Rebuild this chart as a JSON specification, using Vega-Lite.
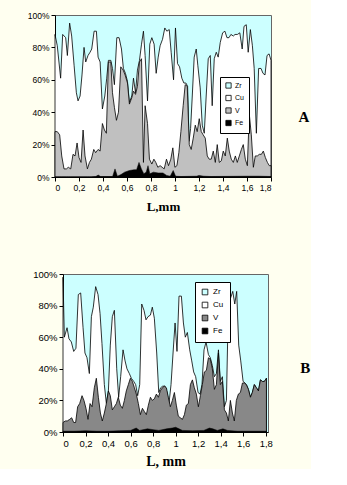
{
  "$schema": "https://vega.github.io/schema/vega-lite/v6.json",
  "background": "#FFFFF0",
  "padding": {"left": 0, "top": 10, "right": 0, "bottom": 0},
  "spacing": 54,
  "columns": 1,
  "resolve": {"scale": {"color": "independent", "x": "independent", "y": "independent"}, "legend": {"color": "independent"}},
  "config": {
    "view": {"fill": "#CCFFFF", "stroke": "#666666", "strokeWidth": 1},
    "axis": {"domainColor": "black", "tickColor": "black", "labelColor": "black", "labelFont": "Liberation Sans", "grid": false, "tickSize": 4, "titleFont": "Liberation Serif", "titleFontWeight": "bold", "titleColor": "black"}
  },
  "datasets": {
    "top": [
      {"s":"Cu","x":0.000,"y":88},{"s":"Cu","x":0.019,"y":81},{"s":"Cu","x":0.047,"y":61},{"s":"Cu","x":0.064,"y":88},{"s":"Cu","x":0.089,"y":86},{"s":"Cu","x":0.103,"y":75},{"s":"Cu","x":0.122,"y":95},{"s":"Cu","x":0.139,"y":87},{"s":"Cu","x":0.159,"y":69},{"s":"Cu","x":0.178,"y":52},{"s":"Cu","x":0.192,"y":47},{"s":"Cu","x":0.209,"y":50},{"s":"Cu","x":0.225,"y":63},{"s":"Cu","x":0.242,"y":80},{"s":"Cu","x":0.256,"y":71},{"s":"Cu","x":0.275,"y":75},{"s":"Cu","x":0.292,"y":77},{"s":"Cu","x":0.306,"y":79},{"s":"Cu","x":0.326,"y":90},{"s":"Cu","x":0.345,"y":90},{"s":"Cu","x":0.359,"y":74},{"s":"Cu","x":0.376,"y":71},{"s":"Cu","x":0.395,"y":42},{"s":"Cu","x":0.415,"y":50},{"s":"Cu","x":0.431,"y":61},{"s":"Cu","x":0.445,"y":72},{"s":"Cu","x":0.465,"y":72},{"s":"Cu","x":0.479,"y":67},{"s":"Cu","x":0.495,"y":57},{"s":"Cu","x":0.515,"y":86},{"s":"Cu","x":0.534,"y":86},{"s":"Cu","x":0.554,"y":79},{"s":"Cu","x":0.570,"y":67},{"s":"Cu","x":0.587,"y":64},{"s":"Cu","x":0.604,"y":59},{"s":"Cu","x":0.620,"y":46},{"s":"Cu","x":0.640,"y":50},{"s":"Cu","x":0.654,"y":61},{"s":"Cu","x":0.671,"y":52},{"s":"Cu","x":0.687,"y":66},{"s":"Cu","x":0.704,"y":72},{"s":"Cu","x":0.721,"y":82},{"s":"Cu","x":0.737,"y":90},{"s":"Cu","x":0.751,"y":75},{"s":"Cu","x":0.771,"y":47},{"s":"Cu","x":0.790,"y":82},{"s":"Cu","x":0.807,"y":86},{"s":"Cu","x":0.826,"y":82},{"s":"Cu","x":0.843,"y":64},{"s":"Cu","x":0.860,"y":74},{"s":"Cu","x":0.876,"y":81},{"s":"Cu","x":0.896,"y":85},{"s":"Cu","x":0.915,"y":92},{"s":"Cu","x":0.932,"y":90},{"s":"Cu","x":0.952,"y":91},{"s":"Cu","x":0.968,"y":77},{"s":"Cu","x":0.988,"y":60},{"s":"Cu","x":1.004,"y":92},{"s":"Cu","x":1.021,"y":70},{"s":"Cu","x":1.038,"y":68},{"s":"Cu","x":1.057,"y":61},{"s":"Cu","x":1.074,"y":58},{"s":"Cu","x":1.091,"y":58},{"s":"Cu","x":1.105,"y":56},{"s":"Cu","x":1.117,"y":22},{"s":"Cu","x":1.130,"y":30},{"s":"Cu","x":1.144,"y":50},{"s":"Cu","x":1.160,"y":74},{"s":"Cu","x":1.177,"y":79},{"s":"Cu","x":1.190,"y":69},{"s":"Cu","x":1.210,"y":55},{"s":"Cu","x":1.227,"y":32},{"s":"Cu","x":1.244,"y":27},{"s":"Cu","x":1.260,"y":50},{"s":"Cu","x":1.277,"y":73},{"s":"Cu","x":1.294,"y":75},{"s":"Cu","x":1.310,"y":44},{"s":"Cu","x":1.327,"y":73},{"s":"Cu","x":1.344,"y":77},{"s":"Cu","x":1.360,"y":74},{"s":"Cu","x":1.377,"y":83},{"s":"Cu","x":1.397,"y":89},{"s":"Cu","x":1.416,"y":90},{"s":"Cu","x":1.433,"y":86},{"s":"Cu","x":1.450,"y":86},{"s":"Cu","x":1.466,"y":88},{"s":"Cu","x":1.486,"y":87},{"s":"Cu","x":1.500,"y":88},{"s":"Cu","x":1.520,"y":88},{"s":"Cu","x":1.540,"y":89},{"s":"Cu","x":1.560,"y":79},{"s":"Cu","x":1.575,"y":93},{"s":"Cu","x":1.594,"y":94},{"s":"Cu","x":1.610,"y":77},{"s":"Cu","x":1.628,"y":91},{"s":"Cu","x":1.645,"y":81},{"s":"Cu","x":1.660,"y":67},{"s":"Cu","x":1.678,"y":27},{"s":"Cu","x":1.697,"y":67},{"s":"Cu","x":1.717,"y":67},{"s":"Cu","x":1.733,"y":64},{"s":"Cu","x":1.750,"y":63},{"s":"Cu","x":1.767,"y":75},{"s":"Cu","x":1.784,"y":76},{"s":"Cu","x":1.800,"y":72},
      {"s":"V","x":0.000,"y":28},{"s":"V","x":0.019,"y":28},{"s":"V","x":0.039,"y":26},{"s":"V","x":0.056,"y":13},{"s":"V","x":0.075,"y":5},{"s":"V","x":0.095,"y":5},{"s":"V","x":0.111,"y":6},{"s":"V","x":0.131,"y":5},{"s":"V","x":0.150,"y":14},{"s":"V","x":0.167,"y":13},{"s":"V","x":0.184,"y":21},{"s":"V","x":0.200,"y":12},{"s":"V","x":0.217,"y":9},{"s":"V","x":0.234,"y":29},{"s":"V","x":0.250,"y":13},{"s":"V","x":0.270,"y":5},{"s":"V","x":0.287,"y":9},{"s":"V","x":0.303,"y":11},{"s":"V","x":0.323,"y":17},{"s":"V","x":0.339,"y":15},{"s":"V","x":0.359,"y":17},{"s":"V","x":0.376,"y":16},{"s":"V","x":0.395,"y":33},{"s":"V","x":0.412,"y":29},{"s":"V","x":0.428,"y":27},{"s":"V","x":0.445,"y":71},{"s":"V","x":0.465,"y":71},{"s":"V","x":0.479,"y":52},{"s":"V","x":0.495,"y":43},{"s":"V","x":0.512,"y":35},{"s":"V","x":0.529,"y":40},{"s":"V","x":0.548,"y":68},{"s":"V","x":0.568,"y":66},{"s":"V","x":0.584,"y":63},{"s":"V","x":0.604,"y":58},{"s":"V","x":0.620,"y":45},{"s":"V","x":0.640,"y":49},{"s":"V","x":0.654,"y":53},{"s":"V","x":0.671,"y":51},{"s":"V","x":0.687,"y":56},{"s":"V","x":0.704,"y":71},{"s":"V","x":0.721,"y":73},{"s":"V","x":0.737,"y":9},{"s":"V","x":0.751,"y":44},{"s":"V","x":0.771,"y":33},{"s":"V","x":0.787,"y":11},{"s":"V","x":0.807,"y":8},{"s":"V","x":0.824,"y":11},{"s":"V","x":0.840,"y":9},{"s":"V","x":0.857,"y":6},{"s":"V","x":0.876,"y":7},{"s":"V","x":0.893,"y":6},{"s":"V","x":0.910,"y":5},{"s":"V","x":0.929,"y":11},{"s":"V","x":0.946,"y":7},{"s":"V","x":0.965,"y":11},{"s":"V","x":0.982,"y":18},{"s":"V","x":0.999,"y":6},{"s":"V","x":1.016,"y":7},{"s":"V","x":1.032,"y":15},{"s":"V","x":1.049,"y":28},{"s":"V","x":1.068,"y":44},{"s":"V","x":1.085,"y":57},{"s":"V","x":1.102,"y":56},{"s":"V","x":1.119,"y":20},{"s":"V","x":1.135,"y":17},{"s":"V","x":1.152,"y":24},{"s":"V","x":1.169,"y":32},{"s":"V","x":1.185,"y":28},{"s":"V","x":1.202,"y":36},{"s":"V","x":1.219,"y":28},{"s":"V","x":1.235,"y":26},{"s":"V","x":1.252,"y":24},{"s":"V","x":1.269,"y":13},{"s":"V","x":1.285,"y":11},{"s":"V","x":1.302,"y":11},{"s":"V","x":1.319,"y":16},{"s":"V","x":1.336,"y":9},{"s":"V","x":1.352,"y":20},{"s":"V","x":1.369,"y":9},{"s":"V","x":1.386,"y":10},{"s":"V","x":1.402,"y":16},{"s":"V","x":1.419,"y":13},{"s":"V","x":1.436,"y":24},{"s":"V","x":1.452,"y":16},{"s":"V","x":1.469,"y":11},{"s":"V","x":1.486,"y":9},{"s":"V","x":1.503,"y":13},{"s":"V","x":1.519,"y":9},{"s":"V","x":1.536,"y":13},{"s":"V","x":1.553,"y":17},{"s":"V","x":1.569,"y":20},{"s":"V","x":1.586,"y":11},{"s":"V","x":1.603,"y":7},{"s":"V","x":1.619,"y":39},{"s":"V","x":1.636,"y":26},{"s":"V","x":1.653,"y":6},{"s":"V","x":1.669,"y":13},{"s":"V","x":1.686,"y":13},{"s":"V","x":1.703,"y":14},{"s":"V","x":1.720,"y":14},{"s":"V","x":1.736,"y":16},{"s":"V","x":1.753,"y":12},{"s":"V","x":1.770,"y":9},{"s":"V","x":1.786,"y":7},{"s":"V","x":1.800,"y":7},
      {"s":"Fe","x":0,"y":0},{"s":"Fe","x":0.30,"y":0},{"s":"Fe","x":0.34,"y":0.3},{"s":"Fe","x":0.36,"y":1.2},{"s":"Fe","x":0.38,"y":0.3},{"s":"Fe","x":0.48,"y":0.3},{"s":"Fe","x":0.50,"y":5},{"s":"Fe","x":0.52,"y":0.5},{"s":"Fe","x":0.55,"y":1.5},{"s":"Fe","x":0.58,"y":3},{"s":"Fe","x":0.62,"y":4},{"s":"Fe","x":0.66,"y":4.5},{"s":"Fe","x":0.68,"y":4.5},{"s":"Fe","x":0.70,"y":9},{"s":"Fe","x":0.72,"y":5},{"s":"Fe","x":0.74,"y":2},{"s":"Fe","x":0.76,"y":3},{"s":"Fe","x":0.775,"y":7},{"s":"Fe","x":0.79,"y":2},{"s":"Fe","x":0.82,"y":3},{"s":"Fe","x":0.86,"y":2.5},{"s":"Fe","x":0.90,"y":2.5},{"s":"Fe","x":0.93,"y":1},{"s":"Fe","x":0.96,"y":0.5},{"s":"Fe","x":0.985,"y":4},{"s":"Fe","x":1.005,"y":0.5},{"s":"Fe","x":1.05,"y":0.3},{"s":"Fe","x":1.18,"y":0.5},{"s":"Fe","x":1.20,"y":1},{"s":"Fe","x":1.24,"y":0.5},{"s":"Fe","x":1.30,"y":0.3},{"s":"Fe","x":1.60,"y":0.5},{"s":"Fe","x":1.70,"y":0.5},{"s":"Fe","x":1.80,"y":0.3}
    ],
    "bot": [
      {"s":"Cu","x":0.000,"y":98},{"s":"Cu","x":0.012,"y":60},{"s":"Cu","x":0.036,"y":66},{"s":"Cu","x":0.053,"y":59},{"s":"Cu","x":0.074,"y":57},{"s":"Cu","x":0.095,"y":51},{"s":"Cu","x":0.115,"y":53},{"s":"Cu","x":0.136,"y":87},{"s":"Cu","x":0.157,"y":88},{"s":"Cu","x":0.178,"y":66},{"s":"Cu","x":0.195,"y":50},{"s":"Cu","x":0.213,"y":47},{"s":"Cu","x":0.234,"y":37},{"s":"Cu","x":0.252,"y":73},{"s":"Cu","x":0.269,"y":79},{"s":"Cu","x":0.290,"y":92},{"s":"Cu","x":0.311,"y":87},{"s":"Cu","x":0.329,"y":75},{"s":"Cu","x":0.346,"y":56},{"s":"Cu","x":0.367,"y":30},{"s":"Cu","x":0.385,"y":18},{"s":"Cu","x":0.403,"y":26},{"s":"Cu","x":0.420,"y":55},{"s":"Cu","x":0.438,"y":73},{"s":"Cu","x":0.456,"y":77},{"s":"Cu","x":0.477,"y":40},{"s":"Cu","x":0.494,"y":22},{"s":"Cu","x":0.512,"y":35},{"s":"Cu","x":0.533,"y":52},{"s":"Cu","x":0.551,"y":45},{"s":"Cu","x":0.568,"y":40},{"s":"Cu","x":0.589,"y":37},{"s":"Cu","x":0.607,"y":34},{"s":"Cu","x":0.628,"y":32},{"s":"Cu","x":0.645,"y":30},{"s":"Cu","x":0.663,"y":23},{"s":"Cu","x":0.681,"y":30},{"s":"Cu","x":0.699,"y":81},{"s":"Cu","x":0.719,"y":77},{"s":"Cu","x":0.737,"y":71},{"s":"Cu","x":0.755,"y":73},{"s":"Cu","x":0.776,"y":74},{"s":"Cu","x":0.793,"y":79},{"s":"Cu","x":0.811,"y":72},{"s":"Cu","x":0.832,"y":50},{"s":"Cu","x":0.850,"y":25},{"s":"Cu","x":0.867,"y":28},{"s":"Cu","x":0.885,"y":29},{"s":"Cu","x":0.906,"y":29},{"s":"Cu","x":0.924,"y":25},{"s":"Cu","x":0.941,"y":18},{"s":"Cu","x":0.959,"y":30},{"s":"Cu","x":0.977,"y":50},{"s":"Cu","x":0.995,"y":69},{"s":"Cu","x":1.012,"y":51},{"s":"Cu","x":1.030,"y":86},{"s":"Cu","x":1.051,"y":86},{"s":"Cu","x":1.069,"y":69},{"s":"Cu","x":1.086,"y":60},{"s":"Cu","x":1.104,"y":63},{"s":"Cu","x":1.125,"y":52},{"s":"Cu","x":1.143,"y":45},{"s":"Cu","x":1.160,"y":38},{"s":"Cu","x":1.178,"y":35},{"s":"Cu","x":1.199,"y":25},{"s":"Cu","x":1.217,"y":24},{"s":"Cu","x":1.234,"y":30},{"s":"Cu","x":1.252,"y":52},{"s":"Cu","x":1.270,"y":57},{"s":"Cu","x":1.291,"y":49},{"s":"Cu","x":1.308,"y":47},{"s":"Cu","x":1.326,"y":42},{"s":"Cu","x":1.344,"y":35},{"s":"Cu","x":1.362,"y":37},{"s":"Cu","x":1.380,"y":52},{"s":"Cu","x":1.397,"y":32},{"s":"Cu","x":1.415,"y":35},{"s":"Cu","x":1.433,"y":16},{"s":"Cu","x":1.451,"y":20},{"s":"Cu","x":1.468,"y":80},{"s":"Cu","x":1.489,"y":85},{"s":"Cu","x":1.507,"y":89},{"s":"Cu","x":1.525,"y":81},{"s":"Cu","x":1.542,"y":89},{"s":"Cu","x":1.560,"y":55},{"s":"Cu","x":1.578,"y":45},{"s":"Cu","x":1.599,"y":32},{"s":"Cu","x":1.616,"y":31},{"s":"Cu","x":1.628,"y":30},{"s":"Cu","x":1.646,"y":27},{"s":"Cu","x":1.664,"y":22},{"s":"Cu","x":1.681,"y":25},{"s":"Cu","x":1.699,"y":30},{"s":"Cu","x":1.717,"y":28},{"s":"Cu","x":1.735,"y":26},{"s":"Cu","x":1.753,"y":33},{"s":"Cu","x":1.770,"y":32},{"s":"Cu","x":1.788,"y":32},{"s":"Cu","x":1.806,"y":34},
      {"s":"V","x":0.000,"y":6},{"s":"V","x":0.021,"y":7},{"s":"V","x":0.038,"y":7},{"s":"V","x":0.059,"y":8},{"s":"V","x":0.077,"y":9},{"s":"V","x":0.095,"y":6},{"s":"V","x":0.112,"y":6},{"s":"V","x":0.130,"y":16},{"s":"V","x":0.148,"y":18},{"s":"V","x":0.169,"y":23},{"s":"V","x":0.186,"y":20},{"s":"V","x":0.204,"y":15},{"s":"V","x":0.222,"y":8},{"s":"V","x":0.240,"y":18},{"s":"V","x":0.258,"y":16},{"s":"V","x":0.278,"y":28},{"s":"V","x":0.296,"y":34},{"s":"V","x":0.314,"y":22},{"s":"V","x":0.332,"y":12},{"s":"V","x":0.349,"y":7},{"s":"V","x":0.367,"y":12},{"s":"V","x":0.385,"y":18},{"s":"V","x":0.403,"y":26},{"s":"V","x":0.420,"y":23},{"s":"V","x":0.438,"y":14},{"s":"V","x":0.456,"y":16},{"s":"V","x":0.474,"y":18},{"s":"V","x":0.491,"y":22},{"s":"V","x":0.509,"y":17},{"s":"V","x":0.527,"y":15},{"s":"V","x":0.545,"y":20},{"s":"V","x":0.562,"y":26},{"s":"V","x":0.580,"y":30},{"s":"V","x":0.598,"y":34},{"s":"V","x":0.616,"y":32},{"s":"V","x":0.634,"y":28},{"s":"V","x":0.651,"y":24},{"s":"V","x":0.669,"y":18},{"s":"V","x":0.687,"y":11},{"s":"V","x":0.705,"y":15},{"s":"V","x":0.722,"y":13},{"s":"V","x":0.740,"y":11},{"s":"V","x":0.758,"y":17},{"s":"V","x":0.776,"y":22},{"s":"V","x":0.793,"y":20},{"s":"V","x":0.811,"y":21},{"s":"V","x":0.829,"y":24},{"s":"V","x":0.847,"y":22},{"s":"V","x":0.864,"y":26},{"s":"V","x":0.882,"y":28},{"s":"V","x":0.900,"y":29},{"s":"V","x":0.918,"y":28},{"s":"V","x":0.935,"y":22},{"s":"V","x":0.953,"y":16},{"s":"V","x":0.971,"y":20},{"s":"V","x":0.989,"y":25},{"s":"V","x":1.006,"y":17},{"s":"V","x":1.024,"y":10},{"s":"V","x":1.042,"y":9},{"s":"V","x":1.060,"y":8},{"s":"V","x":1.078,"y":11},{"s":"V","x":1.095,"y":17},{"s":"V","x":1.113,"y":18},{"s":"V","x":1.131,"y":30},{"s":"V","x":1.149,"y":33},{"s":"V","x":1.166,"y":28},{"s":"V","x":1.184,"y":24},{"s":"V","x":1.202,"y":16},{"s":"V","x":1.220,"y":23},{"s":"V","x":1.237,"y":30},{"s":"V","x":1.255,"y":38},{"s":"V","x":1.273,"y":39},{"s":"V","x":1.291,"y":47},{"s":"V","x":1.308,"y":46},{"s":"V","x":1.326,"y":40},{"s":"V","x":1.344,"y":27},{"s":"V","x":1.362,"y":30},{"s":"V","x":1.380,"y":50},{"s":"V","x":1.397,"y":30},{"s":"V","x":1.415,"y":32},{"s":"V","x":1.433,"y":14},{"s":"V","x":1.451,"y":12},{"s":"V","x":1.468,"y":7},{"s":"V","x":1.486,"y":20},{"s":"V","x":1.504,"y":12},{"s":"V","x":1.521,"y":7},{"s":"V","x":1.539,"y":20},{"s":"V","x":1.557,"y":24},{"s":"V","x":1.575,"y":25},{"s":"V","x":1.593,"y":31},{"s":"V","x":1.610,"y":31},{"s":"V","x":1.628,"y":30},{"s":"V","x":1.646,"y":27},{"s":"V","x":1.664,"y":22},{"s":"V","x":1.681,"y":25},{"s":"V","x":1.699,"y":30},{"s":"V","x":1.717,"y":28},{"s":"V","x":1.735,"y":26},{"s":"V","x":1.753,"y":33},{"s":"V","x":1.770,"y":32},{"s":"V","x":1.788,"y":32},{"s":"V","x":1.806,"y":34},
      {"s":"Fe","x":0,"y":0.5},{"s":"Fe","x":0.10,"y":0.5},{"s":"Fe","x":0.20,"y":0.8},{"s":"Fe","x":0.30,"y":0.5},{"s":"Fe","x":0.40,"y":0.5},{"s":"Fe","x":0.50,"y":0.8},{"s":"Fe","x":0.60,"y":1},{"s":"Fe","x":0.65,"y":2.5},{"s":"Fe","x":0.68,"y":1},{"s":"Fe","x":0.75,"y":2},{"s":"Fe","x":0.80,"y":1.5},{"s":"Fe","x":0.85,"y":1},{"s":"Fe","x":0.92,"y":2},{"s":"Fe","x":0.97,"y":2.5},{"s":"Fe","x":1.00,"y":3},{"s":"Fe","x":1.03,"y":2},{"s":"Fe","x":1.06,"y":1},{"s":"Fe","x":1.15,"y":0.8},{"s":"Fe","x":1.25,"y":1},{"s":"Fe","x":1.30,"y":2.5},{"s":"Fe","x":1.33,"y":2},{"s":"Fe","x":1.37,"y":1},{"s":"Fe","x":1.42,"y":2},{"s":"Fe","x":1.46,"y":1},{"s":"Fe","x":1.55,"y":0.5},{"s":"Fe","x":1.70,"y":0.5},{"s":"Fe","x":1.806,"y":0.5}
    ]
  },
  "concat": [
    {
      "spacing": 0,
      "hconcat": [
        {"width": 24, "height": 10, "data": {"values": []}, "mark": {"type": "point"}, "view": {"fill": null, "stroke": null}},
        {
          "width": 216,
          "height": 162,
          "data": {"name": "top"},
          "title": {"text": "A", "orient": "right", "angle": 0, "align": "left", "baseline": "middle", "anchor": "middle", "offset": 15, "dy": 21, "font": "Liberation Serif", "fontSize": 15, "fontWeight": "bold", "color": "black"},
          "encoding": {
            "x": {"field": "x", "type": "quantitative", "scale": {"domain": [0, 1.8], "nice": false},
                  "axis": {"values": [0,0.2,0.4,0.6,0.8,1,1.2,1.4,1.6,1.8], "labelExpr": "replace(format(datum.value, '.1~f'), '.', ',')", "labelFontSize": 8.5, "title": "L,mm", "titleFontSize": 13, "titlePadding": 9}},
            "y": {"field": "y", "type": "quantitative", "stack": null, "scale": {"domain": [0, 100], "nice": false},
                  "axis": {"values": [0,20,40,60,80,100], "labelExpr": "datum.value + '%'", "labelFontSize": 8.5, "title": null, "minExtent": 30, "maxExtent": 30}},
            "color": {"field": "s", "type": "nominal",
                      "scale": {"domain": ["Zr", "Cu", "V", "Fe"], "range": ["#CCFFFF", "#FFFFFF", "#C0C0C0", "#000000"]},
                      "legend": {"title": null, "orient": "none", "legendX": 220, "legendY": 62, "fillColor": "white", "strokeColor": "black", "padding": 5, "symbolType": "square", "symbolSize": 28, "symbolStrokeColor": "black", "symbolStrokeWidth": 0.8, "labelFont": "Liberation Sans", "labelFontSize": 7, "labelColor": "black", "labelOffset": 3, "rowPadding": 3.5}}
          },
          "layer": [
            {"transform": [{"filter": "datum.s == 'Cu'"}], "mark": {"type": "area", "stroke": "black", "strokeWidth": 0.8, "opacity": 1}},
            {"transform": [{"filter": "datum.s == 'V'"}], "mark": {"type": "area", "stroke": "black", "strokeWidth": 0.8, "opacity": 1}},
            {"transform": [{"filter": "datum.s == 'Fe'"}], "mark": {"type": "area", "stroke": "black", "strokeWidth": 0.5, "opacity": 1}}
          ]
        }
      ]
    },
    {
      "spacing": 0,
      "hconcat": [
        {"width": 32, "height": 10, "data": {"values": []}, "mark": {"type": "point"}, "view": {"fill": null, "stroke": null}},
        {
          "width": 205,
          "height": 158,
          "data": {"name": "bot"},
          "title": {"text": "B", "orient": "right", "angle": 0, "align": "left", "baseline": "middle", "anchor": "middle", "offset": 18, "dy": 15, "font": "Liberation Serif", "fontSize": 15, "fontWeight": "bold", "color": "black"},
          "encoding": {
            "x": {"field": "x", "type": "quantitative", "scale": {"domain": [0, 1.82], "nice": false},
                  "axis": {"values": [0,0.2,0.4,0.6,0.8,1,1.2,1.4,1.6,1.8], "labelExpr": "replace(format(datum.value, '.1~f'), '.', ',')", "labelFontSize": 9.5, "title": "L, mm", "titleFontSize": 14, "titlePadding": 7}},
            "y": {"field": "y", "type": "quantitative", "stack": null, "scale": {"domain": [0, 100], "nice": false},
                  "axis": {"values": [0,20,40,60,80,100], "labelExpr": "datum.value + '%'", "labelFontSize": 9.5, "title": null, "minExtent": 30, "maxExtent": 30}},
            "color": {"field": "s", "type": "nominal",
                      "scale": {"domain": ["Zr", "Cu", "V", "Fe"], "range": ["#CCFFFF", "#FFFFFF", "#888888", "#000000"]},
                      "legend": {"title": null, "orient": "none", "legendX": 195, "legendY": 8, "fillColor": "white", "strokeColor": "black", "padding": 6, "symbolType": "square", "symbolSize": 32, "symbolStrokeColor": "black", "symbolStrokeWidth": 0.8, "labelFont": "Liberation Sans", "labelFontSize": 8, "labelColor": "black", "labelOffset": 4, "rowPadding": 3}}
          },
          "layer": [
            {"transform": [{"filter": "datum.s == 'Cu'"}], "mark": {"type": "area", "stroke": "black", "strokeWidth": 0.8, "opacity": 1}},
            {"transform": [{"filter": "datum.s == 'V'"}], "mark": {"type": "area", "stroke": "black", "strokeWidth": 0.8, "opacity": 1}},
            {"transform": [{"filter": "datum.s == 'Fe'"}], "mark": {"type": "area", "stroke": "black", "strokeWidth": 0.5, "opacity": 1}}
          ]
        }
      ]
    }
  ]
}
